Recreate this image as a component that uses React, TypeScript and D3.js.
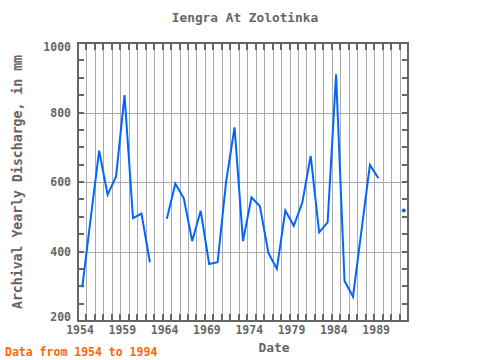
import React from "react";
import * as d3 from "d3";

const years = [
  1954, 1955, 1956, 1957, 1958, 1959, 1960, 1961, 1962, 1963, 1964, 1965, 1966,
  1967, 1968, 1969, 1970, 1971, 1972, 1973, 1974, 1975, 1976, 1977, 1978, 1979,
  1980, 1981, 1982, 1983, 1984, 1985, 1986, 1987, 1988, 1989, 1990, 1991, 1992,
];
const discharge: (number | null)[] = [
  297, 495, 690, 563, 616, 850, 496, 509, 369, null, 494, 595, 553,
  430, 517, 364, 369, 600, 757, 430, 556, 530, 396, 350, 518, 474,
  540, 675, 455, 484, 910, 315, 270, 460, 649, 611, null, null, 518,
];
const yTickValues = [200, 400, 600, 800, 1000];
const xTickLabels = [1954, 1959, 1964, 1969, 1974, 1979, 1984, 1989];

const grey = "#666666";
const font = "'DejaVu Sans Mono', monospace";

export default function App() {
  const left = 78, right = 408, top = 43, bottom = 321;
  const x = d3.scaleLinear().domain([1954, 1993]).range([left, right]);
  const y = d3.scaleLinear().domain([200, 1000]).range([bottom, top]);

  const pts = years.map((yr, i) => ({ yr, v: discharge[i] }));
  const line = d3
    .line<{ yr: number; v: number | null }>()
    .defined((d) => d.v != null)
    .x((d) => x(d.yr + 0.5))
    .y((d) => y(d.v as number));

  // points with no neighbours get a dot
  const lonely = pts.filter(
    (d, i) =>
      d.v != null &&
      (i === 0 || pts[i - 1].v == null) &&
      (i === pts.length - 1 || pts[i + 1].v == null)
  );

  const allYears = d3.range(1954, 1994);
  const minor = d3.range(200, 1001, 50);
  const grid = [400, 600, 800];
  const px = (v: number) => Math.round(v) + 0.5;

  return (
    <svg
      width={480}
      height={360}
      style={{ position: "absolute", left: 0, top: 0, background: "#fff" }}
    >
      <g shapeRendering="crispEdges">
        {allYears.slice(1).map((yr) => (
          <line key={"g" + yr} x1={px(x(yr))} x2={px(x(yr))} y1={top} y2={bottom} stroke="#aaaaaa" strokeWidth={1} />
        ))}
        {grid.map((v) => (
          <line key={"h" + v} x1={left} x2={right} y1={px(y(v))} y2={px(y(v))} stroke="#aaaaaa" strokeWidth={1} />
        ))}
        {allYears.map((yr) => (
          <g key={"t" + yr}>
            <line x1={x(yr)} x2={x(yr)} y1={top} y2={top + 7} stroke={grey} strokeWidth={2} />
            <line x1={x(yr)} x2={x(yr)} y1={bottom} y2={bottom - 7} stroke={grey} strokeWidth={2} />
          </g>
        ))}
        {minor.map((v) => (
          <g key={"m" + v}>
            <line x1={left} x2={left + 6} y1={y(v)} y2={y(v)} stroke={grey} strokeWidth={2} />
            <line x1={right} x2={right - 6} y1={y(v)} y2={y(v)} stroke={grey} strokeWidth={2} />
          </g>
        ))}
        <rect x={left} y={top} width={right - left} height={bottom - top} fill="none" stroke={grey} strokeWidth={2} />
      </g>

      <path d={line(pts) || ""} fill="none" stroke="#0066ff" strokeWidth={2} />
      {lonely.map((d) => (
        <circle key={"p" + d.yr} cx={x(d.yr + 0.5)} cy={y(d.v as number)} r={2} fill="#0066ff" />
      ))}

      {yTickValues.map((v) => (
        <text
          key={"yl" + v}
          x={71}
          y={Math.min(Math.max(y(v), 47), 317)}
          dy="0.35em"
          textAnchor="end"
          fontFamily={font}
          fontWeight="bold"
          fontSize={11.5}
          fill={grey}
        >
          {v}
        </text>
      ))}
      {xTickLabels.map((yr) => (
        <text
          key={"xl" + yr}
          x={x(yr) + 2}
          y={334}
          textAnchor="middle"
          fontFamily={font}
          fontWeight="bold"
          fontSize={11.5}
          fill={grey}
        >
          {yr}
        </text>
      ))}

      <text x={245} y={22} textAnchor="middle" fontFamily={font} fontWeight="bold" fontSize={12.8} fill={grey}>
        Iengra At Zolotinka
      </text>
      <text
        transform="translate(22,182) rotate(-90)"
        textAnchor="middle"
        fontFamily={font}
        fontWeight="bold"
        fontSize={13.2}
        fill={grey}
      >
        Archival Yearly Discharge, in mm
      </text>
      <text x={274} y={352} textAnchor="middle" fontFamily={font} fontWeight="bold" fontSize={12.9} fill={grey}>
        Date
      </text>
      <text x={5} y={356} fontFamily={font} fontWeight="bold" fontSize={11.5} fill="#ff6600">
        Data from 1954 to 1994
      </text>
    </svg>
  );
}
